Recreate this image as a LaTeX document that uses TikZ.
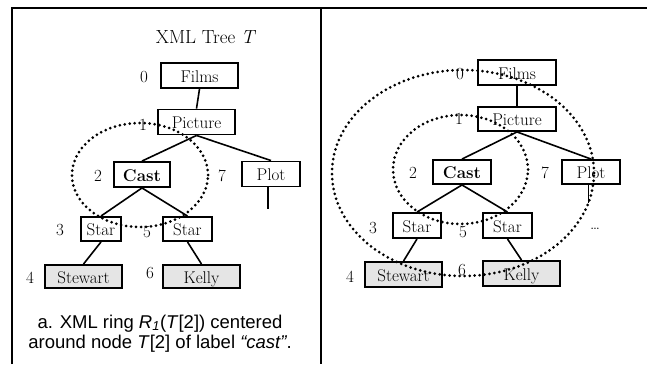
\documentclass[tikz,border=0pt]{standalone}
\usepackage{fontspec}
\newfontfamily\capfont{Liberation Sans}
\begin{document}
\begin{tikzpicture}[x=1pt,y=-1pt,
  treefont/.style={font=\fontsize{17}{20}\selectfont},
  box/.style={draw, line width=1.9pt, fill=white, inner sep=0pt, treefont,
     text height=13pt, text depth=0pt, minimum height=25pt},
  leaf/.style={box, fill=gray!20},
  num/.style={inner sep=0pt, treefont, text height=13pt, text depth=0pt},
  edge/.style={line width=1.6pt},
  ring/.style={line width=3pt, line cap=round, dash pattern=on 0pt off 5pt},
  frame/.style={line width=2.6pt}]
\useasboundingbox (0,0) rectangle (647,364);
\draw[frame] (12,364) -- (12,8) -- (647,8);
\draw[frame] (321,8) -- (321,364);

% ---------- left panel ----------
\node[treefont, font=\fontsize{19}{22}\selectfont, anchor=base] (title) at (206,43) {XML Tree \textit{T}};
\node[box, minimum width=77pt] (LFilms) at (199.5,75.5) {Films};
\node[box, minimum width=77pt] (LPicture) at (196.5,122) {Picture};
\node[box, minimum width=56pt] (LCast) at (142,174.5) {\textbf{Cast}};
\node[box, minimum width=58pt] (LPlot) at (271,174) {Plot};
\node[box, minimum width=40pt, minimum height=24pt] (LStarA) at (101,229) {Star};
\node[box, minimum width=49pt, minimum height=24pt] (LStarB) at (187.5,229) {Star};
\node[leaf, minimum width=77pt, minimum height=23pt] (LStewart) at (83.5,276.5) {Stewart};
\node[leaf, minimum width=77pt, minimum height=23pt] (LKelly) at (201.5,276.5) {Kelly};
\node[num] (l0) at (144,75.5) {0};
\node[num] (l1) at (143,124) {1};
\node[num] (l2) at (98,174.5) {2};
\node[num] (l7) at (222,174.5) {7};
\node[num] (l3) at (60,229) {3};
\node[num] (l5) at (147,231) {5};
\node[num] (l4) at (30,276.5) {4};
\node[num] (l6) at (150,272) {6};
\coordinate (LPlotEnd) at (268,209);
\draw[edge] (LFilms.south) -- (LPicture.north);
\draw[edge] (LPicture.south) -- (LCast.north);
\draw[edge] (LPicture.south) -- (LPlot.north);
\draw[edge] (LCast.south) -- (LStarA.north);
\draw[edge] (LCast.south) -- (LStarB.north);
\draw[edge] (LStarA.south) -- (LStewart.north);
\draw[edge] (LStarB.south) -- (LKelly.north);
\draw[edge] (LPlotEnd |- LPlot.south) -- (LPlotEnd);
\draw[ring] (140,175) ellipse [x radius=68pt, y radius=52pt];
\node[font=\capfont\fontsize{18.5}{20}\selectfont, align=center, anchor=base] (caption) at (160,348)
  {a. XML ring \textit{R\textsubscript{1}}(\textit{T}[2]) centered\\
   around node \textit{T}[2] of label \textit{“cast”}.};

% ---------- right panel ----------
\node[box, minimum width=78pt] (RFilms) at (517,72.5) {Films};
\node[box, minimum width=78pt, minimum height=24pt] (RPicture) at (517,119) {Picture};
\node[box, minimum width=58pt, minimum height=24pt] (RCast) at (462,172) {\textbf{Cast}};
\node[box, minimum width=58pt, minimum height=24pt] (RPlot) at (591,172) {Plot};
\node[box, minimum width=48pt] (RStarA) at (417,225.5) {Star};
\node[box, minimum width=49pt] (RStarB) at (507.5,225.5) {Star};
\node[leaf, minimum width=77pt] (RStewart) at (403.5,274.5) {Stewart};
\node[leaf, minimum width=77pt] (RKelly) at (521.5,273.5) {Kelly};
\node[num] (r0) at (460,72.5) {0};
\node[num] (r1) at (459,118) {1};
\node[num] (r2) at (413,172) {2};
\node[num] (r7) at (545,172) {7};
\node[num] (r3) at (373,227) {3};
\node[num] (r5) at (463,230.5) {5};
\node[num] (r4) at (350,275.5) {4};
\node[num] (r6) at (462,269) {6};
\node[treefont] (dots) at (595,229) {\dots};
\coordinate (RPlotEnd) at (588.5,203);
\draw[edge] (RFilms.south) -- (RPicture.north);
\draw[edge] (RPicture.south) -- (RCast.north);
\draw[edge] (RPicture.south) -- (RPlot.north);
\draw[edge] (RCast.south) -- (RStarA.north);
\draw[edge] (RCast.south) -- (RStarB.north);
\draw[edge] (RStarA.south) -- (RStewart.north);
\draw[edge] (RStarB.south) -- (RKelly.north);
\draw[edge] (RPlotEnd |- RPlot.south) -- (RPlotEnd);
\draw[ring] (460.5,169.5) ellipse [x radius=67.5pt, y radius=54.5pt];
\draw[ring] (463,173) ellipse [x radius=131pt, y radius=103pt];
\end{tikzpicture}
\end{document}
